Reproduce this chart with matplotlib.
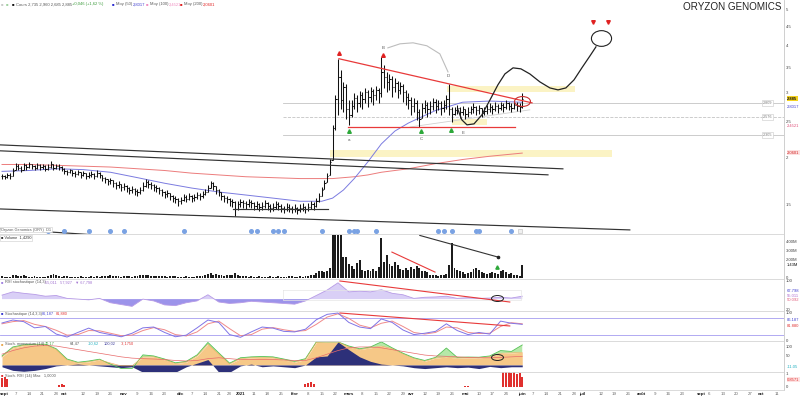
import numpy as np
import pandas as pd
import matplotlib
matplotlib.use('Agg')
import matplotlib.pyplot as plt
from matplotlib.collections import LineCollection
from matplotlib.path import Path
from matplotlib.transforms import Affine2D
from matplotlib.ticker import NullLocator, NullFormatter

plt.rcParams['font.family'] = ['Liberation Sans', 'DejaVu Sans']

TITLE = 'ORYZON GENOMICS'
month_labels = ['sept', 'oct', 'nov', 'déc', '2021', 'févr', 'mars', 'avr', 'mai',
                'juin', 'juil', 'août', 'sept', 'oct']
holidays = ['2020-12-25', '2021-01-01', '2021-04-02', '2021-04-05']

# ---------------- daily prices (bar index 0 = 31 Aug 2020) ----------------
closes = [
    1.79, 1.78, 1.80, 1.79, 1.84, 1.90, 1.88, 1.86, 1.91,
    1.89, 1.92, 1.90, 1.88, 1.91, 1.89, 1.90, 1.87, 1.89, 1.92, 1.88, 1.90, 1.89, 1.87,
    1.84, 1.83, 1.85, 1.82, 1.81, 1.83, 1.80, 1.82, 1.79, 1.80, 1.81, 1.79, 1.82, 1.80,
    1.77, 1.75, 1.73, 1.74, 1.71, 1.69, 1.70, 1.67, 1.68, 1.66, 1.64, 1.65, 1.63, 1.62, 1.64,
    1.68, 1.72, 1.70, 1.69, 1.67, 1.66,
    1.64, 1.62, 1.60, 1.61, 1.58, 1.56, 1.55, 1.53, 1.54,
    1.57, 1.55, 1.58, 1.56, 1.57, 1.59, 1.58, 1.60,
    1.62, 1.66, 1.71, 1.68,
    1.64, 1.62, 1.58, 1.56, 1.55, 1.53, 1.52,
    1.46,
    1.50, 1.52, 1.51, 1.50, 1.52, 1.51, 1.49, 1.50, 1.48, 1.49,
    1.51, 1.49, 1.47, 1.48, 1.50, 1.49, 1.47, 1.46, 1.48, 1.47,
    1.46, 1.47, 1.45, 1.47, 1.48, 1.46, 1.48, 1.50, 1.49,
    1.53, 1.58, 1.64, 1.71, 1.79, 1.95,
    2.40, 2.88, 3.30, 2.85,
    3.10, 2.70, 2.60,
    2.75, 2.90, 2.80, 2.95, 2.88, 3.00, 2.92,
    3.02, 2.95, 3.05, 2.98, 3.40,
    3.30, 3.20, 3.25, 3.10, 3.18, 3.05, 3.12, 3.00, 2.92, 2.85,
    2.75, 2.80, 2.65, 2.55, 2.72, 2.78, 2.70, 2.76,
    2.82, 2.75, 2.80, 2.72, 2.78, 2.88,
    2.70, 2.62,
    2.68, 2.72, 2.65, 2.70, 2.62, 2.66, 2.70, 2.74, 2.68, 2.72,
    2.64, 2.67, 2.70, 2.74, 2.71, 2.76, 2.72, 2.78, 2.74, 2.80,
    2.76, 2.72, 2.78, 2.75, 2.73,
    2.885,
]
highs = [
    1.81, 1.80, 1.82, 1.82, 1.88, 1.94, 1.92, 1.90, 1.94,
    1.92, 1.95, 1.93, 1.91, 1.94, 1.92, 1.93, 1.91, 1.92, 1.96, 1.92, 1.93, 1.92, 1.90,
    1.88, 1.86, 1.87, 1.85, 1.84, 1.85, 1.83, 1.84, 1.82, 1.83, 1.84, 1.82, 1.85, 1.83,
    1.80, 1.78, 1.76, 1.77, 1.74, 1.72, 1.73, 1.70, 1.71, 1.69, 1.67, 1.68, 1.66, 1.65, 1.67,
    1.72, 1.75, 1.74, 1.72, 1.70, 1.69,
    1.67, 1.65, 1.63, 1.64, 1.61, 1.59, 1.58, 1.56, 1.57,
    1.60, 1.59, 1.61, 1.59, 1.60, 1.62, 1.61, 1.63,
    1.65, 1.69, 1.73, 1.72,
    1.68, 1.65, 1.62, 1.59, 1.58, 1.56, 1.55,
    1.53,
    1.53, 1.55, 1.54, 1.53, 1.55, 1.54, 1.52, 1.53, 1.51, 1.52,
    1.54, 1.52, 1.50, 1.51, 1.53, 1.52, 1.50, 1.49, 1.51, 1.50,
    1.49, 1.50, 1.48, 1.50, 1.51, 1.49, 1.51, 1.53, 1.52,
    1.56, 1.61, 1.67, 1.74, 1.82, 1.98,
    2.45, 2.95, 3.68, 3.45,
    3.20, 3.15, 2.85,
    2.85, 2.98, 2.95, 3.02, 3.00, 3.08, 3.04,
    3.10, 3.06, 3.12, 3.08, 3.72,
    3.55, 3.40, 3.36, 3.32, 3.28, 3.22, 3.20, 3.16, 3.05, 2.98,
    2.92, 2.90, 2.85, 2.70, 2.80, 2.86, 2.82, 2.84,
    2.90, 2.88, 2.86, 2.84, 2.86, 2.95,
    3.16, 2.74,
    2.74, 2.78, 2.74, 2.76, 2.70, 2.73, 2.76, 2.80, 2.76, 2.78,
    2.72, 2.73, 2.77, 2.80, 2.78, 2.82, 2.79, 2.83, 2.80, 2.85,
    2.82, 2.80, 2.84, 2.82, 2.80,
    2.98,
]
lows = [
    1.76, 1.75, 1.77, 1.76, 1.79, 1.85, 1.85, 1.83, 1.86,
    1.86, 1.88, 1.87, 1.85, 1.87, 1.86, 1.87, 1.84, 1.86, 1.88, 1.85, 1.87, 1.86, 1.84,
    1.81, 1.80, 1.82, 1.79, 1.78, 1.80, 1.77, 1.79, 1.76, 1.77, 1.78, 1.76, 1.78, 1.77,
    1.73, 1.71, 1.69, 1.70, 1.67, 1.65, 1.66, 1.63, 1.64, 1.62, 1.60, 1.61, 1.59, 1.58, 1.60,
    1.63, 1.67, 1.66, 1.65, 1.63, 1.62,
    1.60, 1.58, 1.56, 1.57, 1.54, 1.52, 1.51, 1.49, 1.50,
    1.53, 1.52, 1.54, 1.52, 1.53, 1.55, 1.54, 1.56,
    1.59, 1.62, 1.66, 1.64,
    1.60, 1.58, 1.54, 1.52, 1.51, 1.49, 1.48,
    1.40,
    1.45, 1.48, 1.47, 1.46, 1.48, 1.47, 1.45, 1.46, 1.44, 1.45,
    1.47, 1.45, 1.43, 1.44, 1.46, 1.45, 1.43, 1.42, 1.44, 1.43,
    1.42, 1.43, 1.41, 1.43, 1.44, 1.42, 1.44, 1.46, 1.45,
    1.48, 1.52, 1.58, 1.65, 1.72, 1.80,
    1.97, 2.38, 2.60, 2.70,
    2.65, 2.55, 2.45,
    2.58, 2.70, 2.66, 2.74, 2.70, 2.80, 2.74,
    2.82, 2.78, 2.86, 2.80, 2.92,
    3.08, 3.00, 3.05, 2.92, 3.00, 2.90, 2.96, 2.82, 2.78, 2.70,
    2.60, 2.66, 2.52, 2.42, 2.56, 2.64, 2.58, 2.62,
    2.68, 2.64, 2.68, 2.60, 2.66, 2.70,
    2.60, 2.49,
    2.60, 2.62, 2.56, 2.60, 2.55, 2.58, 2.62, 2.64, 2.60, 2.63,
    2.57, 2.60, 2.62, 2.65, 2.63, 2.67, 2.64, 2.68, 2.66, 2.70,
    2.68, 2.65, 2.70, 2.67, 2.66,
    2.72,
]
# volume in millions
volumes = [
    0.15, 0.12, 0.10, 0.12, 0.25, 0.35, 0.20, 0.15, 0.30, 0.18, 0.12, 0.10, 0.15, 0.12, 0.10,
    0.10, 0.12, 0.15, 0.30, 0.40, 0.25, 0.15, 0.12, 0.20, 0.15, 0.10, 0.12, 0.10, 0.12, 0.15, 0.10,
    0.12, 0.10, 0.15, 0.12, 0.18, 0.12, 0.15, 0.20, 0.18, 0.25, 0.15, 0.20, 0.15, 0.12, 0.18, 0.20, 0.15, 0.12, 0.15, 0.20,
    0.25, 0.35, 0.30, 0.25, 0.15, 0.20, 0.15, 0.18, 0.22, 0.15, 0.12, 0.18, 0.20, 0.15, 0.12, 0.10, 0.12, 0.15, 0.12, 0.10,
    0.12, 0.15, 0.18, 0.20, 0.35, 0.45, 0.50, 0.35, 0.40, 0.30, 0.25, 0.20, 0.25, 0.30, 0.35, 0.50, 0.30, 0.20, 0.18, 0.15,
    0.12, 0.15, 0.12, 0.10, 0.15, 0.12, 0.10, 0.12, 0.15, 0.10, 0.12, 0.15, 0.12, 0.10, 0.12, 0.15, 0.18, 0.12, 0.10, 0.15,
    0.12, 0.18, 0.20, 0.25, 0.30, 0.55, 0.75, 0.70, 0.65, 0.80, 1.10,
    4.8, 4.8, 4.8, 4.8, 2.3, 2.3, 1.5,
    1.3, 1.0, 1.6, 2.0, 0.9, 0.8, 0.9, 0.8, 1.0, 0.7, 1.2, 4.4,
    1.7, 2.5, 1.5, 1.3, 1.7, 1.4, 1.0, 0.9, 1.1, 0.9,
    1.2, 1.0, 1.3, 1.1, 0.7, 0.8, 0.6, 0.3, 0.25, 0.3,
    0.2, 0.3, 0.3, 0.4, 1.4, 3.9, 1.1, 0.9, 0.8, 0.6,
    0.4, 0.5, 0.6, 1.0, 1.1, 0.9, 0.6, 0.5, 0.4, 0.5,
    0.6, 0.5, 0.4, 0.7, 0.9, 0.6, 0.4, 0.5, 0.3, 0.3, 0.2, 1.4,
]
assert len(closes) == len(highs) == len(lows) == len(volumes) == 193

# moving averages (read at selected bars)
ma_idx = [0, 10, 20, 30, 40, 50, 60, 70, 80, 90, 100, 110, 118, 122, 126, 130, 135, 140, 145, 150, 160, 170, 180, 192]
ma50 = [1.84, 1.85, 1.87, 1.86, 1.83, 1.77, 1.71, 1.66, 1.62, 1.59, 1.56, 1.53, 1.53, 1.56, 1.64, 1.76,
        1.95, 2.18, 2.36, 2.48, 2.68, 2.82, 2.84, 2.82]
ma200 = [1.92, 1.92, 1.91, 1.90, 1.89, 1.87, 1.85, 1.82, 1.80, 1.78, 1.77, 1.76, 1.76, 1.76, 1.77, 1.78,
         1.80, 1.83, 1.85, 1.87, 1.93, 1.98, 2.02, 2.06]

# oscillators, read every 4th bar
osc_idx = list(range(0, 193, 4))
rsi = [61, 70, 66, 63, 58, 60, 52, 50, 48, 52, 40, 35, 30, 50, 45, 34, 32, 40, 45, 62, 42, 38, 40, 44, 42,
       40, 38, 36, 45, 60, 75, 95, 70, 72, 70, 76, 66, 62, 52, 55, 56, 58, 52, 54, 52, 53, 55, 53, 58]
stoch_k = [63, 74, 68, 45, 50, 22, 11, 28, 44, 28, 20, 12, 25, 45, 48, 28, 12, 18, 45, 74, 65, 20, 10, 30, 48,
           44, 32, 30, 40, 75, 95, 100, 65, 48, 42, 78, 65, 37, 20, 25, 32, 60, 35, 20, 28, 22, 70, 62, 58]
stoch_d = [60, 68, 72, 58, 50, 36, 18, 20, 35, 34, 25, 16, 18, 35, 46, 38, 20, 15, 30, 60, 70, 42, 16, 20, 40,
           46, 38, 32, 35, 58, 85, 97, 80, 55, 45, 62, 70, 50, 28, 22, 28, 48, 45, 28, 24, 25, 50, 64, 60]
smi_main = [44, 94, 108, 111, 111, 85, 28, 11, 17, 28, 11, -5, -5, 44, 45, 28, 8, 15, 50, 115, 60, 5, 35, 40, 42,
            40, 28, 15, 30, 125, 128, 128, 100, 85, 95, 105, 90, 60, 35, 20, 38, 44, 38, 40, 39, 45, 65, 67, 70]
smi_hist = [-10, -30, -35, -30, -20, -5, 0, 5, 0, -5, -10, -15, -10, -40, -40, -40, -40, -10, 10, 30, -40, -40, -5, 5, -10,
            -5, -10, -15, 0, 45, 50, 128, 85, 45, 20, 5, 0, -5, -15, -20, -15, -10, -15, -12, -20, -8, -15, -10, -10]
smi_green = [50, 100, 112, 115, 115, 90, 33, 15, 22, 32, 5, -20, -20, 56, 50, 33, 12, 20, 56, 125, 67, 10, 40, 45, 47,
             45, 33, 20, 35, 128, 128, 128, 105, 90, 100, 128, 95, 65, 40, 25, 42, 94, 42, 44, 43, 50, 80, 75, 111]
smi_signal = [60, 80, 95, 105, 108, 105, 95, 85, 75, 65, 55, 45, 38, 35, 33, 30, 25, 22, 25, 35, 40, 35, 30, 30, 30,
              30, 28, 25, 25, 40, 60, 80, 95, 100, 100, 95, 85, 75, 65, 55, 50, 48, 45, 42, 40, 40, 42, 45, 48]
for s in (rsi, stoch_k, stoch_d, smi_main, smi_hist, smi_green, smi_signal):
    assert len(s) == len(osc_idx)
sig_idx = [0, 1, 2, 21, 22, 23, 112, 113, 114, 115, 171, 172, 185, 186, 187, 188, 189, 190, 191, 192]
sig_val = [0.7, 0.75, 0.6, 0.15, 0.25, 0.15, 0.2, 0.3, 0.35, 0.25, 0.08, 0.08, 1.2, 1.2, 1.2, 1.1, 1.2, 1.0, 1.1, 0.8]

event_idx = [17, 23, 32, 40, 45, 67, 92, 94, 100, 102, 104, 118, 128, 130, 131, 138, 161, 163, 166, 175, 176, 188]

# ---------------- drawings (bar index, price) ----------------
black_lines = [([-0.74, 207.0], [2.167, 1.869]),
               ([-0.74, 201.5], [2.089, 1.801]),
               ([-0.74, 231.7], [1.459, 1.282]),
               ([85.2, 120.3], [1.459, 1.459])]
red_lines = [([124.35, 195.6], [3.688, 2.809]),
             ([127.7, 189.3], [2.422, 2.422])]
arc_x = [142.4, 146.9, 151.7, 156.8, 161.6, 164.6]
arc_y = [3.944, 4.044, 4.069, 3.995, 3.80, 3.40]
proj_x = [168.3, 169.7, 171.6, 174.2, 177.1, 180.1, 183.0, 185.6, 188.6, 191.5, 194.8, 198.5, 202.2, 205.2,
          208.1, 211.1, 214.0, 217.0, 219.2]
proj_y = [2.690, 2.529, 2.452, 2.467, 2.608, 2.861, 3.138, 3.358, 3.486, 3.465, 3.358, 3.197, 3.080, 3.043,
          3.080, 3.237, 3.486, 3.754, 3.969]
yellow_zones = [(121.0, 225.1, 2.01, 2.10), (164.2, 211.4, 3.00, 3.12), (166.1, 179.0, 2.45, 2.54)]
levels = [(2.809, '-'), (2.576, '--'), (2.305, '-')]

# ---------------- figure ----------------
fig = plt.figure(figsize=(8, 3.96), dpi=100)
W, H, PR = 800.0, 396.0, 784.0


def rect(top, bottom):
    return [0.0, 1 - bottom / H, PR / W, (bottom - top) / H]


ax_p = fig.add_axes(rect(0, 234))
ax_v = fig.add_axes(rect(234, 279))
ax_r = fig.add_axes(rect(279, 311))
ax_s = fig.add_axes(rect(311, 341))
ax_m = fig.add_axes(rect(341, 372))
ax_x = fig.add_axes(rect(372, 390))
axes = [ax_p, ax_v, ax_r, ax_s, ax_m, ax_x]
XMIN, XMAX = -0.74, 288.6
for a in axes:
    a.set_xlim(XMIN, XMAX)
    for s in ['left', 'top', 'bottom']:
        a.spines[s].set_visible(False)
    a.spines['right'].set_color('#c8c8c8')
    a.spines['right'].set_linewidth(0.6)
    a.yaxis.tick_right()
    a.tick_params(axis='both', length=0, labelsize=3.1, colors='#444', pad=1.5)
    a.set_xticks([])
for a in axes[1:]:
    a.spines['top'].set_visible(True)
    a.spines['top'].set_color('#d4d4d4')
    a.spines['top'].set_linewidth(0.6)
ax_x.spines['bottom'].set_visible(True)
ax_x.spines['bottom'].set_color('#d4d4d4')
ax_x.spines['bottom'].set_linewidth(0.6)


def right_label(ax, y, s, color='#444', fc=None, bold=False):
    kw = dict(transform=ax.get_yaxis_transform(), fontsize=3.0, color=color, va='center', ha='left',
              clip_on=False, fontweight='bold' if bold else 'normal')
    if fc:
        kw['bbox'] = dict(boxstyle='square,pad=0.12', fc=fc, ec='none')
    ax.text(1.004, y, s, **kw)


def ellipse(ratio):
    return Path.unit_circle().transformed(Affine2D().scale(1.0, ratio))


n = len(closes)
xi = np.arange(n)
c = np.array(closes)
hi = np.array(highs)
lo = np.array(lows)
op = np.clip(np.concatenate([[c[0]], c[:-1]]), lo, hi)

# ---- price panel ----
ax_p.set_yscale('log')
ax_p.set_ylim(1.25, 5.30)
for (x0, x1, p0, p1) in yellow_zones:
    ax_p.fill_between([x0, x1], p0, p1, color='#fbf3c4', lw=0, zorder=1)
for (lv, ls) in levels:
    ax_p.plot([103.7, XMAX], [lv, lv], color='#c4c4c4', lw=0.6, ls=ls, zorder=1)
ax_p.plot(ma_idx, ma200, color='#ec7c7c', lw=0.7, zorder=2)
ax_p.plot(ma_idx, ma50, color='#7b7be0', lw=0.7, zorder=2)
segs = []
for k in range(n):
    segs.append([(xi[k], lo[k]), (xi[k], hi[k])])
    segs.append([(xi[k] - 0.45, op[k]), (xi[k], op[k])])
    segs.append([(xi[k], c[k]), (xi[k] + 0.45, c[k])])
ax_p.add_collection(LineCollection(segs, colors='#111111', linewidths=0.75, zorder=3))
for (xs, ys) in black_lines:
    ax_p.plot(xs, ys, color='#333333', lw=0.85, zorder=4)
ax_p.plot([-0.74, 39.85], [1.291, 1.236], color='#333333', lw=0.85, zorder=4, clip_on=False)
for (xs, ys) in red_lines:
    ax_p.plot(xs, ys, color='#e83a3a', lw=0.9, zorder=4)
ax_p.plot([150.6, 194.8], [2.42, 2.69], color='#d0d0d0', lw=0.6, zorder=2)
ax_p.plot(arc_x, arc_y, color='#bdbdbd', lw=0.8, zorder=4)
ax_p.plot(proj_x, proj_y, color='#222222', lw=0.9, zorder=4)
ax_p.plot([221.0], [4.19], marker=ellipse(0.78), ms=14.5, mfc='none', mec='#222', mew=0.8, ls='none', zorder=5)
ax_p.plot([191.9], [2.844], marker=ellipse(0.62), ms=11.5, mfc='none', mec='#c83030', mew=0.8, ls='none', zorder=5)
ax_p.plot([124.35, 140.6], [3.824, 3.778], marker='^', ms=2.6, color='#e02222', ls='none', zorder=5)
ax_p.plot([218.1, 223.6], [4.63, 4.63], marker='v', ms=2.6, color='#e02222', ls='none', zorder=5)
ax_p.plot([128.0, 154.6, 165.7], [2.362, 2.362, 2.377], marker='^', ms=2.6, color='#2da83a', ls='none', zorder=5)
for (lx, ly, t) in [(140.6, 3.944, 'B'), (128.0, 2.235, 'a'), (154.6, 2.249, 'C'), (164.6, 3.318, 'D'),
                    (170.1, 2.334, 'E')]:
    ax_p.text(lx, ly, t, fontsize=3.2, color='#555', ha='center', va='center', zorder=6)
ax_p.plot(event_idx, [0.011] * len(event_idx), transform=ax_p.get_xaxis_transform(), marker='o', ms=2.6,
          color='#7aa2e3', ls='none', clip_on=False, zorder=6)
ax_p.plot([191], [0.011], transform=ax_p.get_xaxis_transform(), marker='s', ms=2.4, mfc='#f0f0f0',
          mec='#bbbbbb', mew=0.4, ls='none', clip_on=False, zorder=6)
ax_p.yaxis.set_minor_locator(NullLocator())
ax_p.yaxis.set_minor_formatter(NullFormatter())
pt = [1.5, 2, 2.5, 3, 3.5, 4, 4.5, 5]
ax_p.set_yticks(pt)
ax_p.set_yticklabels(['1.5', '2', '2.5', '3', '3.5', '4', '4.5', '5'])
right_label(ax_p, 2.885, '2.885', color='#111', fc='#f4d21f', bold=True)
right_label(ax_p, 2.74, '2.8017', color='#4040d0')
right_label(ax_p, 2.437, '2.4521', color='#e0507a')
right_label(ax_p, 2.063, '2.0601', color='#d02020', fc='#fde2e2')
for (lv, t) in [(2.809, '2.809'), (2.576, '2.576'), (2.305, '2.305')]:
    ax_p.text(282.5, lv, t, fontsize=2.7, color='#777', ha='center', va='center',
              bbox=dict(boxstyle='square,pad=0.2', fc='white', ec='#c8c8c8', lw=0.4), zorder=6)

fig.text(683 / W, 1 - 7.5 / H, TITLE, fontsize=7.1, color='#222', ha='left', va='center')


def ftxt(x, y, s, color='#555', size=3.0, **kw):
    fig.text(x / W, 1 - y / H, s, fontsize=size, color=color, ha='left', va='center', **kw)


ftxt(1, 4.5, '■', '#c8c8c8')
ftxt(6, 4.5, '■', '#9fd19f')
ftxt(12, 4.5, '■', '#111')
ftxt(16, 4.5, 'Cours 2,735 2,960 2,685 2,885')
ftxt(72, 4.5, '+0,046 (+1,62 %)', '#3a9a3a')
ftxt(112, 4.5, '■', '#2a2ad0')
ftxt(116, 4.5, 'Moy (50)')
ftxt(133, 4.5, '2,8017', '#4040d0')
ftxt(146, 4.5, '■', '#f08cc0')
ftxt(150, 4.5, 'Moy (100)')
ftxt(169, 4.5, '2,4521', '#f08cc0')
ftxt(180, 4.5, '■', '#e02020')
ftxt(184, 4.5, 'Moy (200)')
ftxt(203, 4.5, '2,0601', '#e02020')

# ---- volume panel ----
ax_v.set_ylim(-0.14, 4.86)
ax_v.bar(xi, volumes, width=0.72, color='#1c1c1c', lw=0)
ax_v.plot([154.2, 183.0], [4.7, 2.3], color='#333', lw=0.8)
ax_v.plot([183.0], [2.3], marker='o', ms=1.6, color='#222')
ax_v.plot([143.9, 159.8], [2.85, 0.63], color='#e83a3a', lw=0.8)
ax_v.plot([182.7], [1.19], marker='^', ms=2.4, color='#2da83a', ls='none')
ax_v.set_yticks([0, 2, 3, 4])
ax_v.set_yticklabels(['0', '2.00M', '3.00M', '4.00M'])
right_label(ax_v, 1.43, '1.43M', color='#111')
ftxt(1, 229.5, 'Oryzon Genomics (ORY)  D1', '#555', 2.8,
     bbox=dict(boxstyle='square,pad=0.2', fc='white', ec='#cccccc', lw=0.4))
ftxt(1, 238, '■ Volume  1,4290', '#333', 2.8,
     bbox=dict(boxstyle='square,pad=0.2', fc='white', ec='#cccccc', lw=0.4))

# ---- RSI panel ----
ax_r.set_ylim(17.2, 105.5)
r = np.array(rsi, dtype=float)
ax_r.fill_between(osc_idx, r, 50, where=r >= 50, interpolate=True, color='#d9cff6', lw=0)
ax_r.fill_between(osc_idx, r, 50, where=r < 50, interpolate=True, color='#9c93ea', lw=0)
ax_r.plot(osc_idx, rsi, color='#b79be6', lw=0.6)
ax_r.plot([103.7, 191.5, 191.5, 103.7, 103.7], [75.2, 75.2, 47.6, 47.6, 75.2], color='#e6e6e6', lw=0.5)
ax_r.plot([124.7, 187.4], [100, 42], color='#e83a3a', lw=0.8)
ax_r.plot([182.7], [53.1], marker=ellipse(0.5), ms=8.6, mfc='none', mec='#222', mew=0.7, ls='none')
ax_r.set_yticks([20, 100])
ax_r.set_yticklabels(['20', '100'])
right_label(ax_r, 72, '67.798', color='#4040d0')
right_label(ax_r, 58, '55.011', color='#b070d0')
right_label(ax_r, 47, '50.092', color='#e05a7a')
ftxt(1, 282.5, '■', '#a080e0', 2.8)
ftxt(5, 282.5, 'RSI stochastique (14,3)', '#555', 2.8)
ftxt(45, 282.5, '55,011   57,927   ▼ 67,798', '#a070d0', 2.8)

# ---- stochastic panel ----
ax_s.set_ylim(-3.7, 107.4)
ax_s.axhline(80, color='#a59cf0', lw=0.6)
ax_s.axhline(20, color='#a59cf0', lw=0.6)
ax_s.plot(osc_idx, stoch_d, color='#f08a8a', lw=0.7)
ax_s.plot(osc_idx, stoch_k, color='#8074e6', lw=0.7)
ax_s.plot([124.7, 187.4], [100, 52], color='#e83a3a', lw=0.8)
ax_s.set_yticks([0, 100])
ax_s.set_yticklabels(['0', '100'])
right_label(ax_s, 74, '86.187', color='#4040d0')
right_label(ax_s, 52, '81.880', color='#e03030')
ftxt(1, 313.5, '■', '#3a3ad0', 2.8)
ftxt(5, 313.5, 'Stochastique (14,3,3)', '#555', 2.8)
ftxt(42, 313.5, '86,187', '#4040d0', 2.8)
ftxt(56, 313.5, '81,880', '#e03030', 2.8)

# ---- stochastic momentum panel ----
ax_m.set_ylim(-39, 133)
mm = np.array(smi_main, dtype=float)
gg = np.array(smi_green, dtype=float)
ax_m.fill_between(osc_idx, gg, mm, where=gg >= mm, interpolate=True, color='#b5e8a8', lw=0)
ax_m.fill_between(osc_idx, mm, 0, color='#f6c887', lw=0)
ax_m.fill_between(osc_idx, smi_hist, 0, color='#2d3079', lw=0)
ax_m.plot(osc_idx, smi_green, color='#57c257', lw=0.6)
ax_m.plot(osc_idx, smi_main, color='#e8a850', lw=0.4)
ax_m.plot(osc_idx, smi_signal, color='#e86a6a', lw=0.5)
ax_m.plot([182.7], [44], marker=ellipse(0.5), ms=8.6, mfc='none', mec='#222', mew=0.7, ls='none')
ax_m.set_yticks([50, 100])
ax_m.set_yticklabels(['50', '100'])
right_label(ax_m, -11, '-11.05', color='#20b0c0')
ftxt(1, 344, '■', '#e8a850', 2.8)
ftxt(5, 344, 'Stoch. momentum (14)', '#555', 2.8)
ftxt(45, 344, '70,17', '#3aa03a', 2.8)
ftxt(70, 344, '64,47', '#555', 2.8)
ftxt(88, 344, '-10,62', '#20b0c0', 2.8)
ftxt(104, 344, '100,02', '#3a3a9a', 2.8)
ftxt(121, 344, '-3,1750', '#e03030', 2.8)

# ---- signal panel ----
ax_x.set_ylim(-0.23, 1.15)
ax_x.bar(sig_idx, sig_val, width=0.75, color='#e0302e', lw=0)
ax_x.set_yticks([0, 1])
ax_x.set_yticklabels(['0', '1'])
right_label(ax_x, 0.54, '0.8571', color='#e03030', fc='#fde2e2')
ftxt(1, 375.5, '■', '#e03030', 2.8)
ftxt(5, 375.5, 'Stoch. RSI (14) Max   1,0000', '#555', 2.8)

# ---- calendar axis ----
dates = pd.bdate_range('2020-08-31', '2021-10-29')
dates = dates[~dates.isin(pd.to_datetime(holidays))]
pos = np.arange(len(dates))
periods = dates.to_period('M')
month_pos = []
for per in periods.unique():
    if per == pd.Period('2020-08', 'M'):
        continue
    month_pos.append(int(pos[periods == per][0]))
month_pos = month_pos[:len(month_labels)]
ticks, labels, is_month = [], [], []
for p_, t in zip(month_pos, month_labels):
    ticks.append(p_)
    labels.append(t)
    is_month.append(True)
for p_, d in zip(pos, dates):
    if d.weekday() == 0 and min(abs(p_ - m) for m in month_pos) > 2 and p_ < XMAX:
        ticks.append(int(p_))
        labels.append(str(d.day))
        is_month.append(False)
order = np.argsort(ticks)
ticks = [ticks[k] for k in order]
labels = [labels[k] for k in order]
is_month = [is_month[k] for k in order]
ax_x.set_xticks(ticks)
ax_x.set_xticklabels(labels)
ax_x.tick_params(axis='x', labelsize=3.2, pad=1.2, length=0)
for tl, m in zip(ax_x.get_xticklabels(), is_month):
    tl.set_color('#222' if m else '#666')
    if m:
        tl.set_fontweight('bold')

fig.savefig('out.png', dpi=100, facecolor='white')
